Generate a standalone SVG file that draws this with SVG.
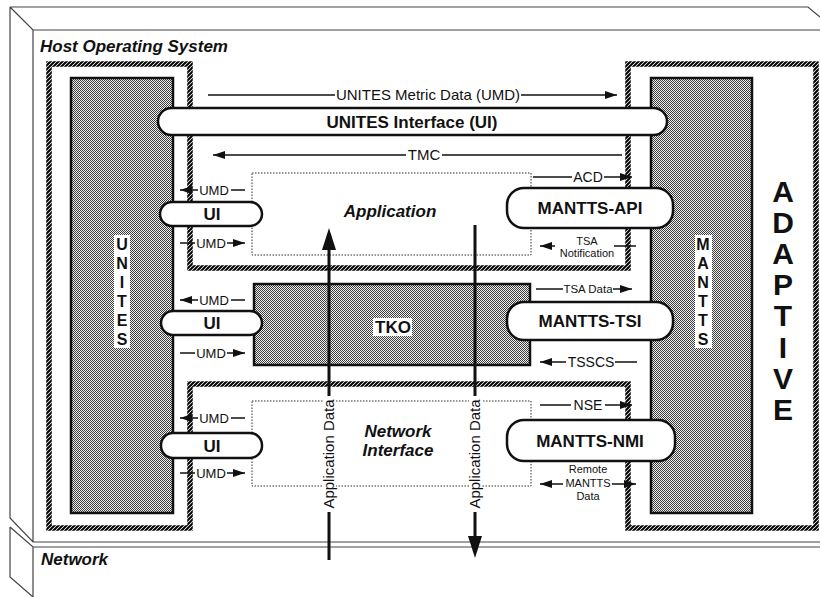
<svg xmlns="http://www.w3.org/2000/svg" width="820" height="597" viewBox="0 0 820 597">
<defs>
  <pattern id="hatch" width="4" height="4" patternUnits="userSpaceOnUse">
    <rect width="4" height="4" fill="#fff"/>
    <path d="M-1,5 L5,-1 M-1,1 L1,-1 M3,5 L5,3" stroke="#000" stroke-width="2"/>
  </pattern>
  <pattern id="stip" width="2" height="2" patternUnits="userSpaceOnUse">
    <rect width="2" height="2" fill="#f2f2f2"/>
    <rect width="1" height="1" fill="#3a3a3a"/>
    <rect x="1" y="1" width="1" height="1" fill="#3a3a3a"/>
  </pattern>
  <marker id="ah" viewBox="0 0 12 8" refX="12" refY="4" markerWidth="12" markerHeight="8" markerUnits="userSpaceOnUse" orient="auto" preserveAspectRatio="none">
    <path d="M0,0 L12,4 L0,8 Z" fill="#111"/>
  </marker>
  <marker id="ahb" viewBox="0 0 22 14" refX="12" refY="7" markerWidth="22" markerHeight="14" markerUnits="userSpaceOnUse" orient="auto" preserveAspectRatio="none">
    <path d="M0,0 L22,7 L0,14 Z" fill="#111"/>
  </marker>
  <style>
    text { font-family: "Liberation Sans", Arial, Helvetica, sans-serif; fill: #111; }
    .b { font-weight: bold; }
    .bi { font-weight: bold; font-style: italic; }
    .mid { text-anchor: middle; }
    .frame { fill: none; stroke: #444; stroke-width: 1.2; }
    .hatch { fill: none; stroke: url(#hatch); stroke-width: 5.5; }
    .gray { fill: url(#stip); stroke: #111; stroke-width: 2.5; }
    .pill { fill: #fff; stroke: #111; stroke-width: 2.5; }
    .dot { fill: none; stroke: #333; stroke-width: 1; stroke-dasharray: 1.5 1.5; }
    .ln { fill: none; stroke: #111; stroke-width: 1.5; }
    .big { fill: none; stroke: #111; stroke-width: 3; }
    .wbg { fill: #fff; }
  </style>
</defs>

<rect width="820" height="597" fill="#fff"/>

<g id="host-os">
  <path class="frame" d="M10,7 H808 L820,17 M10,7 L33,30 H820 M10,7 V518 L33,542 H820 M33,30 V542"/>
  <text class="bi" x="40" y="52" font-size="17">Host Operating System</text>
</g>

<g id="network">
  <path class="frame" d="M10,527 L33,547 H820 M10,527 V577 L33,597 M33,547 V597"/>
  <text class="bi" x="41" y="565" font-size="17">Network</text>
</g>

<g id="adaptive">
  <path class="hatch" d="M49,64 H190 V268 H628 V64 H816 V528 H628 V384 H190 V528 H49 Z"/>
  <g class="b mid" font-size="30">
    <text x="783" y="202">A</text>
    <text x="783" y="233">D</text>
    <text x="783" y="264">A</text>
    <text x="783" y="295">P</text>
    <text x="783" y="326">T</text>
    <text x="783" y="358">I</text>
    <text x="783" y="389">V</text>
    <text x="783" y="420">E</text>
  </g>
</g>

<g id="unites">
  <rect class="gray" x="71" y="78" width="102" height="435"/>
  <rect class="wbg" x="114" y="235" width="16" height="113"/>
  <g class="b mid" font-size="16">
    <text x="122" y="250">U</text>
    <text x="122" y="269">N</text>
    <text x="122" y="288">I</text>
    <text x="122" y="307">T</text>
    <text x="122" y="326">E</text>
    <text x="122" y="345">S</text>
  </g>
</g>

<g id="mantts">
  <rect class="gray" x="651" y="78" width="101" height="435"/>
  <rect class="wbg" x="695" y="235" width="17" height="113"/>
  <g class="b mid" font-size="16">
    <text x="703" y="250">M</text>
    <text x="703" y="269">A</text>
    <text x="703" y="288">N</text>
    <text x="703" y="307">T</text>
    <text x="703" y="326">T</text>
    <text x="703" y="345">S</text>
  </g>
</g>

<g id="unites-interface">
  <rect class="pill" x="158" y="108" width="509" height="27" rx="13.5"/>
  <text class="b mid" x="412" y="128" font-size="17">UNITES Interface (UI)</text>
</g>

<g id="application">
  <rect class="dot" x="252" y="173" width="279" height="82"/>
  <text class="bi mid" x="390" y="217" font-size="17">Application</text>
</g>

<g id="tko">
  <rect class="gray" x="254" y="284" width="276" height="81"/>
  <rect class="wbg" x="373" y="318" width="39" height="18"/>
  <text class="b mid" x="393" y="333" font-size="17">TKO</text>
</g>

<g id="network-interface">
  <rect class="dot" x="252" y="401" width="279" height="85"/>
  <text class="bi mid" x="398" y="437" font-size="17">Network</text>
  <text class="bi mid" x="398" y="456" font-size="17">Interface</text>
</g>

<g id="ui-1">
  <rect class="pill" x="160" y="202" width="102" height="24" rx="12"/>
  <text class="b mid" x="212" y="220" font-size="17">UI</text>
</g>
<g id="ui-2">
  <rect class="pill" x="161" y="311" width="101" height="24" rx="12"/>
  <text class="b mid" x="212" y="329" font-size="17">UI</text>
</g>
<g id="ui-3">
  <rect class="pill" x="161" y="433" width="101" height="25" rx="12"/>
  <text class="b mid" x="212" y="452" font-size="17">UI</text>
</g>

<g id="mantts-api">
  <rect class="pill" x="507" y="188" width="166" height="40" rx="17"/>
  <text class="b mid" x="590" y="214" font-size="17">MANTTS-API</text>
</g>
<g id="mantts-tsi">
  <rect class="pill" x="507" y="302" width="166" height="38" rx="17"/>
  <text class="b mid" x="590" y="327" font-size="17">MANTTS-TSI</text>
</g>
<g id="mantts-nmi">
  <rect class="pill" x="507" y="420" width="168" height="41" rx="17"/>
  <text class="b mid" x="590" y="447" font-size="17">MANTTS-NMI</text>
</g>

<g id="connectors">
  <path class="ln" d="M208,95 H335"/>
  <path class="ln" d="M521,95 H617" marker-end="url(#ah)"/>
  <text class="mid" x="428" y="100" font-size="15">UNITES Metric Data (UMD)</text>
  <path class="ln" d="M622,155 H442"/>
  <path class="ln" d="M406,155 H213" marker-end="url(#ah)"/>
  <text class="mid" x="424" y="160" font-size="15">TMC</text>

  <path class="ln" d="M198,190 H180" marker-end="url(#ah)"/>
  <path class="ln" d="M231,190 H245"/>
  <text class="mid" x="214" y="194.5" font-size="13">UMD</text>
  <path class="ln" d="M180,243 H195"/>
  <path class="ln" d="M227,243 H245" marker-end="url(#ah)"/>
  <text class="mid" x="211" y="247.5" font-size="13">UMD</text>

  <path class="ln" d="M198,300 H180" marker-end="url(#ah)"/>
  <path class="ln" d="M231,300 H245"/>
  <text class="mid" x="214" y="304.5" font-size="13">UMD</text>
  <path class="ln" d="M180,353 H195"/>
  <path class="ln" d="M227,353 H245" marker-end="url(#ah)"/>
  <text class="mid" x="211" y="357.5" font-size="13">UMD</text>

  <path class="ln" d="M198,418 H180" marker-end="url(#ah)"/>
  <path class="ln" d="M231,418 H245"/>
  <text class="mid" x="214" y="422.5" font-size="13">UMD</text>
  <path class="ln" d="M180,473 H195"/>
  <path class="ln" d="M227,473 H245" marker-end="url(#ah)"/>
  <text class="mid" x="211" y="477.5" font-size="13">UMD</text>

  <path class="ln" d="M533,177 H572"/>
  <path class="ln" d="M604,177 H632" marker-end="url(#ah)"/>
  <text class="mid" x="588" y="182" font-size="14">ACD</text>

  <path class="ln" d="M555,246 H540" marker-end="url(#ah)"/>
  <path class="ln" d="M614,246 H636"/>
  <text class="mid" x="587" y="245" font-size="11">TSA</text>
  <text class="mid" x="587" y="257" font-size="11">Notification</text>

  <path class="ln" d="M536,289 H563"/>
  <path class="ln" d="M613,289 H632" marker-end="url(#ah)"/>
  <text class="mid" x="588" y="293" font-size="11.5">TSA Data</text>

  <path class="ln" d="M566,362 H540" marker-end="url(#ah)"/>
  <path class="ln" d="M615,362 H637"/>
  <text class="mid" x="591" y="367" font-size="14">TSSCS</text>

  <path class="ln" d="M540,405 H571"/>
  <path class="ln" d="M605,405 H632" marker-end="url(#ah)"/>
  <text class="mid" x="588" y="410" font-size="14">NSE</text>

  <path class="ln" d="M563,484 H540" marker-end="url(#ah)"/>
  <path class="ln" d="M612,484 H636" marker-end="url(#ah)"/>
  <text class="mid" x="588" y="473" font-size="11">Remote</text>
  <text class="mid" x="588" y="487" font-size="11">MANTTS</text>
  <text class="mid" x="588" y="500" font-size="11">Data</text>

  <path class="big" d="M329,560 V512"/>
  <path class="big" d="M329,396 V238" marker-end="url(#ahb)"/>
  <rect class="wbg" x="323" y="398" width="13" height="112"/>
  <text class="mid" transform="translate(334,454) rotate(-90)" font-size="15">Application Data</text>
  <path class="big" d="M475,225 V396"/>
  <path class="big" d="M475,512 V548" marker-end="url(#ahb)"/>
  <rect class="wbg" x="469" y="398" width="13" height="112"/>
  <text class="mid" transform="translate(480,454) rotate(-90)" font-size="15">Application Data</text>
</g>
</svg>
